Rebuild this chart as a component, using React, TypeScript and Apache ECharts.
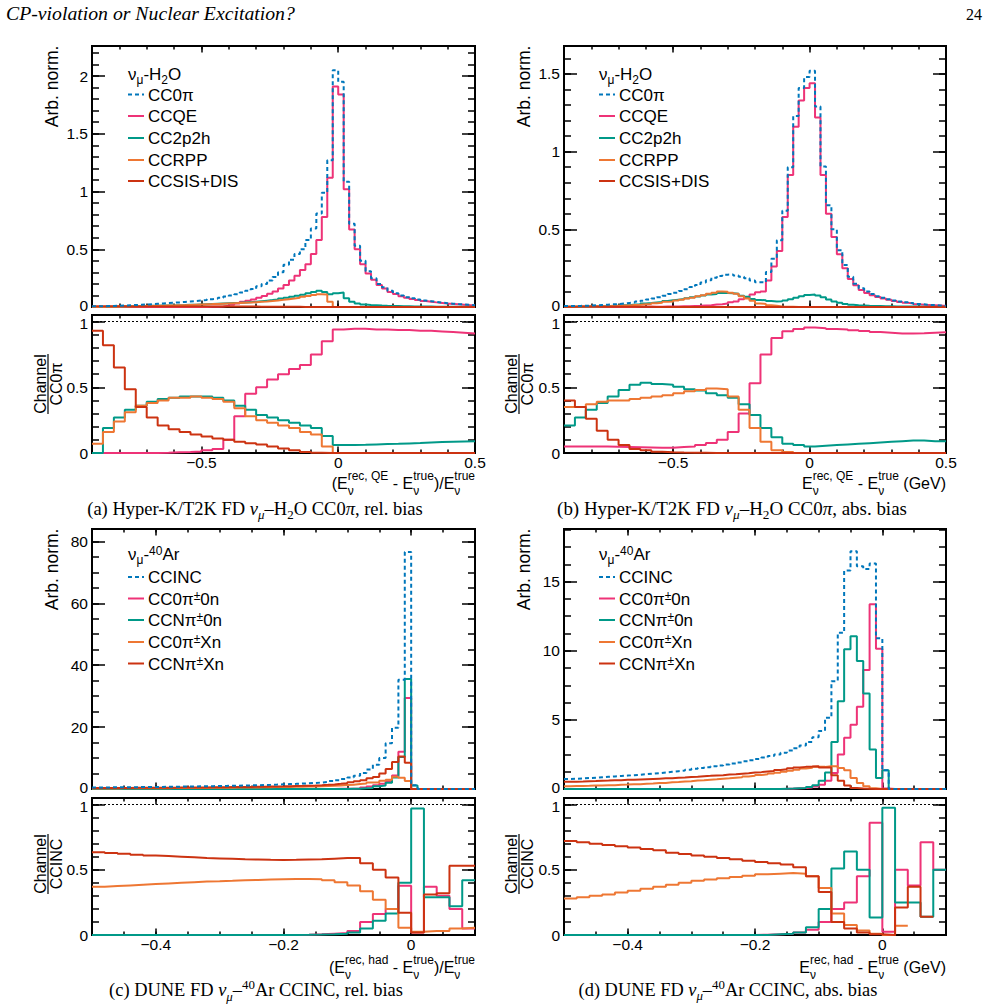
import React, { useEffect, useRef } from 'react';
import * as echarts from 'echarts';

// ======================= DATA =======================
// (a) Hyper-K/T2K FD nu_mu-H2O CC0pi, relative bias. Top: 70 bins of 0.02 from -0.9; ratio: 35 bins of 0.04 from -0.9
const aTopStart = -0.9, aTopWidth = 0.02, aRatioStart = -0.9, aRatioWidth = 0.04;
const aCC0pi = [0.006,0.007,0.008,0.009,0.011,0.013,0.015,0.017,0.02,0.022,
  0.025,0.028,0.031,0.034,0.037,0.04,0.044,0.048,0.052,0.056,
  0.06,0.067,0.073,0.08,0.09,0.1,0.11,0.125,0.14,0.155,
  0.18,0.2,0.23,0.26,0.3,0.365,0.41,0.46,0.5,0.58,
  0.68,0.81,0.99,1.27,2.05,1.95,1.085,0.72,0.53,0.4,
  0.31,0.25,0.2,0.17,0.14,0.12,0.1,0.085,0.075,0.065,
  0.056,0.05,0.044,0.038,0.033,0.029,0.025,0.022,0.019,0.016];
const aCCQE = [0,0,0,0,0,0,0,0,0,0,
  0,0,0,0,0,0,0,0,0.0005,0.0008,
  0.001,0.0015,0.002,0.004,0.01,0.02,0.03,0.045,0.055,0.065,
  0.08,0.095,0.115,0.135,0.16,0.19,0.23,0.27,0.32,0.37,
  0.46,0.58,0.78,1.12,1.91,1.84,1.02,0.67,0.5,0.37,
  0.29,0.235,0.19,0.16,0.13,0.112,0.094,0.08,0.07,0.06,
  0.052,0.046,0.04,0.035,0.03,0.027,0.023,0.02,0.017,0.015];
const aCC2p2h = [0.001,0.001,0.002,0.003,0.004,0.005,0.006,0.007,0.008,0.009,
  0.01,0.011,0.012,0.013,0.014,0.016,0.017,0.019,0.02,0.022,
  0.024,0.026,0.028,0.03,0.032,0.034,0.036,0.039,0.042,0.045,
  0.05,0.055,0.06,0.066,0.073,0.08,0.088,0.097,0.107,0.118,
  0.13,0.14,0.13,0.11,0.12,0.125,0.075,0.045,0.03,0.022,
  0.018,0.015,0.012,0.01,0.009,0.008,0.007,0.006,0.005,0.005,
  0.004,0.004,0.003,0.003,0.003,0.002,0.002,0.002,0.002,0.002];
const aCCRPP = [0.0005,0.001,0.0015,0.002,0.003,0.004,0.005,0.006,0.007,0.008,
  0.009,0.01,0.011,0.012,0.013,0.015,0.016,0.018,0.02,0.022,
  0.024,0.025,0.027,0.029,0.031,0.033,0.035,0.037,0.039,0.042,
  0.045,0.048,0.052,0.057,0.062,0.068,0.074,0.08,0.088,0.095,
  0.103,0.11,0.108,0.046,0,0,0,0,0,0,
  0,0,0,0,0,0,0,0,0,0,
  0,0,0,0,0,0,0,0,0,0];
const aCCSISDIS = [0.0055,0.0058,0.006,0.006,0.006,0.0055,0.005,0.0045,0.0045,0.0045,
  0.004,0.004,0.004,0.004,0.004,0.004,0.004,0.004,0.004,0.004,
  0.004,0.004,0.004,0.004,0.004,0.004,0.004,0.004,0.004,0.004,
  0.003,0.003,0.003,0.003,0.003,0.002,0.002,0.002,0.001,0.001,
  0,0,0,0,0,0,0,0,0,0,
  0,0,0,0,0,0,0,0,0,0,
  0,0,0,0,0,0,0,0,0,0];
const aRatioCCQE = [0,0,0,0,0,0,0.002,0.005,0.008,0.012,
  0.02,0.03,0.1,0.28,0.45,0.5,0.56,0.6,0.64,0.67,
  0.75,0.85,0.94,0.945,0.945,0.94,0.94,0.935,0.935,0.93,
  0.93,0.925,0.92,0.915,0.91];
const aRatioCC2p2h = [0,0.19,0.27,0.33,0.36,0.39,0.41,0.42,0.43,0.43,
  0.43,0.42,0.4,0.36,0.33,0.29,0.27,0.25,0.23,0.21,
  0.19,0.13,0.06,0.06,0.062,0.065,0.068,0.07,0.073,0.076,
  0.08,0.083,0.086,0.088,0.09];
const aRatioCCRPP = [0.07,0.16,0.24,0.31,0.36,0.38,0.4,0.42,0.42,0.43,
  0.42,0.41,0.39,0.34,0.28,0.25,0.23,0.21,0.19,0.16,
  0.14,0.05,0,0,0,0,0,0,0,0,
  0,0,0,0,0];
const aRatioCCSISDIS = [0.93,0.82,0.65,0.485,0.35,0.27,0.21,0.18,0.16,0.14,
  0.125,0.11,0.1,0.085,0.075,0.065,0.05,0.035,0.02,0.008,
  0.002,0,0,0,0,0,0,0,0,0,
  0,0,0,0,0];

// (b) Hyper-K/T2K FD nu_mu-H2O CC0pi, absolute bias (GeV). Same binning as (a)
const bTopStart = -0.9, bTopWidth = 0.02, bRatioStart = -0.9, bRatioWidth = 0.04;
const bCC0pi = [0.006,0.006,0.007,0.008,0.009,0.011,0.013,0.015,0.017,0.019,
  0.022,0.026,0.03,0.035,0.041,0.048,0.055,0.063,0.073,0.084,
  0.092,0.103,0.115,0.128,0.142,0.157,0.172,0.188,0.2,0.208,
  0.21,0.203,0.195,0.185,0.17,0.16,0.158,0.225,0.31,0.43,
  0.62,0.9,1.23,1.41,1.48,1.52,1.29,0.905,0.655,0.5,
  0.366,0.27,0.195,0.15,0.12,0.1,0.083,0.07,0.06,0.05,
  0.042,0.035,0.03,0.025,0.02,0.017,0.014,0.012,0.01,0.008];
const bCCQE = [0.0003,0.0003,0.0003,0.0003,0.0003,0.0003,0.0003,0.0003,0.0004,0.0004,
  0.0005,0.0006,0.0008,0.001,0.0012,0.0014,0.0016,0.0018,0.003,0.003,
  0.004,0.005,0.005,0.007,0.008,0.01,0.012,0.016,0.018,0.022,
  0.03,0.036,0.05,0.065,0.08,0.095,0.1,0.17,0.26,0.36,
  0.58,0.85,1.16,1.33,1.41,1.44,1.22,0.85,0.6,0.45,
  0.34,0.25,0.18,0.14,0.11,0.09,0.076,0.064,0.055,0.046,
  0.038,0.032,0.027,0.023,0.018,0.015,0.013,0.011,0.009,0.007];
const bCC2p2h = [0.0013,0.0013,0.002,0.002,0.0032,0.0034,0.005,0.0056,0.0075,0.008,
  0.011,0.012,0.016,0.018,0.023,0.025,0.029,0.033,0.039,0.043,
  0.047,0.051,0.056,0.062,0.068,0.074,0.08,0.084,0.09,0.09,
  0.088,0.085,0.073,0.066,0.052,0.045,0.043,0.038,0.036,0.037,
  0.042,0.05,0.06,0.07,0.078,0.08,0.074,0.062,0.048,0.036,
  0.027,0.02,0.015,0.012,0.01,0.008,0.007,0.006,0.005,0.005,
  0.004,0.004,0.003,0.003,0.003,0.002,0.002,0.002,0.001,0.001];
const bCCRPP = [0.0021,0.0021,0.0025,0.0027,0.0036,0.0038,0.0053,0.0056,0.007,0.0074,
  0.009,0.01,0.013,0.014,0.018,0.019,0.024,0.027,0.033,0.036,
  0.042,0.047,0.054,0.06,0.069,0.075,0.085,0.091,0.1,0.098,
  0.092,0.086,0.07,0.055,0.04,0.023,0.02,0.012,0.008,0.004,
  0.002,0.001,0,0,0,0,0,0,0,0,
  0,0,0,0,0,0,0,0,0,0,
  0,0,0,0,0,0,0,0,0,0];
const bCCSISDIS = [0.0024,0.0024,0.0026,0.0026,0.0026,0.0026,0.0024,0.0024,0.0018,0.0018,
  0.0014,0.0015,0.001,0.001,0.0009,0.0009,0.0006,0.0006,0.0004,0.0004,
  0.0002,0.0002,0.0002,0.0002,0.0002,0.0002,0.0002,0.0002,0.0002,0.0002,
  0,0,0,0,0,0,0,0,0,0,
  0,0,0,0,0,0,0,0,0,0,
  0,0,0,0,0,0,0,0,0,0,
  0,0,0,0,0,0,0,0,0,0];
const bRatioCCQE = [0.05,0.05,0.05,0.05,0.048,0.046,0.044,0.042,0.04,0.04,
  0.045,0.05,0.06,0.077,0.1,0.16,0.3,0.53,0.75,0.875,
  0.926,0.944,0.954,0.95,0.944,0.94,0.934,0.928,0.92,0.915,
  0.91,0.91,0.912,0.915,0.918];
const bRatioCC2p2h = [0.21,0.27,0.33,0.38,0.43,0.48,0.52,0.535,0.525,0.52,
  0.505,0.485,0.475,0.455,0.44,0.42,0.37,0.29,0.19,0.12,
  0.07,0.06,0.05,0.055,0.06,0.065,0.07,0.075,0.08,0.085,
  0.09,0.095,0.095,0.09,0.09];
const bRatioCCRPP = [0.35,0.35,0.37,0.39,0.4,0.4,0.41,0.42,0.43,0.44,
  0.455,0.47,0.48,0.49,0.485,0.43,0.33,0.19,0.085,0.02,
  0.008,0,0,0,0,0,0,0,0,0,
  0,0,0,0,0];
const bRatioCCSISDIS = [0.4,0.35,0.26,0.17,0.1,0.06,0.03,0.02,0.01,0.005,
  0.003,0.002,0.001,0,0,0,0,0,0,0,
  0,0,0,0,0,0,0,0,0,0,
  0,0,0,0,0];

// (c) DUNE FD nu_mu-40Ar CCINC, relative bias. Top: 60 bins of 0.01 from -0.5; ratio: 30 bins of 0.02
const cTopStart = -0.5, cTopWidth = 0.01, cRatioStart = -0.5, cRatioWidth = 0.02;
const cCCINC = [0.5,0.5,0.52,0.54,0.56,0.58,0.6,0.62,0.64,0.66,
  0.68,0.7,0.73,0.76,0.79,0.82,0.85,0.88,0.92,0.96,
  1.0,1.04,1.08,1.13,1.18,1.23,1.29,1.35,1.42,1.5,
  1.58,1.66,1.75,1.85,1.96,2.1,2.3,2.55,2.85,3.2,
  3.7,4.3,5.2,6.3,7.8,10.0,14.8,19.8,35.3,76.6,
  1.2,0,0,0,0,0,0,0,0,0];
const cCC0pi0n = [0,0,0,0,0,0,0,0,0,0,
  0,0,0,0,0,0,0,0,0,0,
  0,0,0,0,0,0,0,0,0,0,
  0,0,0.004,0.004,0.01,0.01,0.023,0.026,0.043,0.048,
  0.11,0.13,0.5,0.8,1.2,1.7,2.5,4.4,12,29.4,
  0.02,0,0,0,0,0,0,0,0,0];
const cCCNpi0n = [0,0,0,0,0,0,0,0,0,0,
  0,0,0,0,0,0,0,0,0,0,
  0,0,0,0,0,0,0,0,0,0,
  0,0,0.002,0.002,0.005,0.006,0.013,0.015,0.028,0.032,
  0.07,0.08,0.25,0.35,0.9,1.1,2.0,3.7,10.3,35.5,
  1.1,0,0,0,0,0,0,0,0,0];
const cCC0piXn = [0.19,0.19,0.2,0.2,0.21,0.22,0.23,0.24,0.25,0.26,
  0.27,0.28,0.29,0.3,0.32,0.33,0.35,0.36,0.38,0.4,
  0.42,0.43,0.45,0.48,0.5,0.52,0.55,0.57,0.61,0.64,
  0.68,0.71,0.75,0.8,0.84,0.9,0.97,1.07,1.15,1.3,
  1.41,1.63,1.74,2.11,2.1,2.7,2.96,3.96,3.6,2.6,
  0.03,0,0,0,0,0,0,0,0,0];
const cCCNpiXn = [0.32,0.32,0.33,0.34,0.35,0.36,0.37,0.38,0.39,0.4,
  0.41,0.42,0.44,0.46,0.47,0.49,0.5,0.52,0.54,0.56,
  0.58,0.61,0.63,0.66,0.68,0.71,0.74,0.78,0.82,0.86,
  0.91,0.96,1.01,1.07,1.14,1.22,1.35,1.49,1.68,1.89,
  2.18,2.54,2.86,3.47,3.9,5.0,6.5,8.7,10.5,8.5,
  0.02,0,0,0,0,0,0,0,0,0];
const cRatioCC0pi0n = [0,0,0,0,0,0,0,0,0,0,0,0,0,0,0,0,0.002,0.005,0.01,0.015,0.03,0.1,0.16,0.2,0.377,0.02,0.37,0.3,0.2,0.05];
const cRatioCCNpi0n = [0,0,0,0,0,0,0,0,0,0,0,0,0,0,0,0,0.001,0.003,0.006,0.01,0.02,0.05,0.11,0.165,0.4,0.97,0.29,0.29,0.22,0.42];
const cRatioCC0piXn = [0.37,0.375,0.38,0.385,0.39,0.395,0.4,0.405,0.41,0.412,0.415,0.42,0.422,0.425,0.428,0.43,0.43,0.428,0.42,0.405,0.38,0.335,0.27,0.2,0.056,0.025,0.03,0.03,0.05,0.055];
const cRatioCCNpiXn = [0.635,0.628,0.622,0.616,0.61,0.605,0.6,0.595,0.59,0.587,0.584,0.58,0.578,0.576,0.575,0.576,0.578,0.58,0.585,0.59,0.59,0.55,0.5,0.44,0.17,0.02,0.31,0.32,0.53,0.53];

// (d) DUNE FD nu_mu-40Ar CCINC, absolute bias (GeV). Same binning as (c)
const dTopStart = -0.5, dTopWidth = 0.01, dRatioStart = -0.5, dRatioWidth = 0.02;
const dCCINC = [0.72,0.74,0.76,0.79,0.82,0.85,0.88,0.91,0.94,0.97,
  1.0,1.03,1.07,1.11,1.15,1.19,1.24,1.29,1.34,1.4,
  1.46,1.52,1.58,1.64,1.7,1.77,1.84,1.92,2.0,2.08,
  2.17,2.27,2.38,2.5,2.63,2.78,2.95,3.15,3.4,3.75,
  4.2,5.15,7.8,11.3,15.8,17.2,16.1,15.9,16.3,10.9,
  1.35,0,0,0,0,0,0,0,0,0];
const dCC0pi0n = [0,0,0,0,0,0,0,0,0,0,
  0,0,0,0,0,0,0,0,0,0,
  0,0,0,0,0,0,0,0,0,0,
  0.002,0.003,0.005,0.006,0.01,0.015,0.05,0.07,0.1,0.18,
  0.3,0.6,1.16,2.5,3.7,4.65,5.95,8.6,13.35,10.15,
  0.03,0,0,0,0,0,0,0,0,0];
const dCCNpi0n = [0,0,0,0,0,0,0,0,0,0,
  0,0,0,0,0,0,0,0,0,0,
  0,0,0,0,0,0,0,0,0,0,
  0,0,0.003,0.005,0.02,0.03,0.05,0.07,0.15,0.28,
  0.6,1.2,3.4,6.35,10.1,11.05,9.25,6.9,2.85,0.8,
  1.35,0,0,0,0,0,0,0,0,0];
const dCC0piXn = [0.2,0.21,0.22,0.23,0.25,0.26,0.27,0.28,0.31,0.32,
  0.34,0.35,0.38,0.39,0.43,0.44,0.48,0.5,0.54,0.56,
  0.61,0.63,0.67,0.7,0.74,0.77,0.82,0.85,0.91,0.95,
  1.01,1.06,1.12,1.18,1.25,1.32,1.39,1.48,1.53,1.6,
  1.6,1.64,1.64,1.52,1.35,0.8,0.43,0.19,0.05,0,
  0,0,0,0,0,0,0,0,0,0];
const dCCNpiXn = [0.52,0.53,0.54,0.56,0.57,0.6,0.61,0.63,0.64,0.66,
  0.67,0.69,0.71,0.73,0.75,0.77,0.78,0.81,0.83,0.87,
  0.89,0.93,0.95,0.98,1.0,1.04,1.07,1.11,1.14,1.19,
  1.22,1.27,1.31,1.38,1.42,1.5,1.56,1.6,1.62,1.65,
  1.55,1.55,1.0,0.6,0.25,0.08,0.03,0.01,0.005,0,
  0,0,0,0,0,0,0,0,0,0];
const dRatioCC0pi0n = [0,0,0,0,0,0,0,0,0,0,0,0,0,0,0,0.002,0.005,0.01,0.02,0.04,0.1,0.2,0.25,0.45,0.86,0.025,0.5,0.38,0.71,0.5];
const dRatioCCNpi0n = [0,0,0,0,0,0,0,0,0,0,0,0,0,0,0,0,0.005,0.01,0.02,0.06,0.2,0.51,0.64,0.5,0.135,0.975,0.25,0.25,0.14,0.5];
const dRatioCC0piXn: (number | null)[] = [0.28,0.29,0.3,0.31,0.325,0.34,0.355,0.37,0.385,0.4,0.415,0.425,0.435,0.445,0.455,0.465,0.47,0.475,0.47,0.45,0.36,0.165,0.076,0.035,0.01,0,0.07,null,null,null];
const dRatioCCNpiXn: (number | null)[] = [0.72,0.71,0.7,0.69,0.68,0.67,0.66,0.65,0.63,0.62,0.61,0.6,0.59,0.58,0.57,0.56,0.55,0.54,0.52,0.45,0.33,0.1,0.05,0.02,0.005,0,0.21,0.37,0.14,null];

// Tick labels
const xTicksHK = [-0.5, 0, 0.5];
const xTicksDUNE = [-0.4, -0.2, 0];
const yTicksA = [0, 0.5, 1, 1.5, 2];
const yTicksB = [0, 0.5, 1, 1.5];
const yTicksC = [0, 20, 40, 60, 80];
const yTicksD = [0, 5, 10, 15];
const yTicksRatio = [0, 0.5, 1];

// ======================= STYLE =======================
const SANS = "'Liberation Sans', Arial, Helvetica, sans-serif";
const SERIF = "'Liberation Serif', 'Times New Roman', Times, serif";
const C_BLUE = '#0077BB', C_PINK = '#EE3377', C_TEAL = '#009988', C_ORANGE = '#EE7733', C_RED = '#CC3311';

function range(a: number, b: number, step: number) {
  const out: number[] = [];
  const n = Math.floor((b - a) / step + 1e-6);
  for (let i = 0; i <= n; i++) out.push(+(a + i * step).toFixed(6));
  return out;
}
const fmt = (v: number) => (v < 0 ? '\u2212' : '') + String(+Math.abs(v).toFixed(3));

function histPoints(vals: (number | null)[], x0: number, bw: number) {
  const pts: any[] = [];
  vals.forEach((v, i) => {
    const l = +(x0 + i * bw).toFixed(6), r = +(x0 + (i + 1) * bw).toFixed(6);
    if (v === null || v === undefined) { pts.push([l, '-']); return; }
    pts.push([l, v]); pts.push([r, v]);
  });
  return pts;
}

// ------- rich text pieces -------
type Piece = { t?: string; sub?: string; sup?: string; s: number; dy?: number; subDy?: number; supDy?: number; it?: boolean };
let mctx: CanvasRenderingContext2D | null = null;
function measure(t: string, s: number, fam: string, it?: boolean) {
  if (!mctx) mctx = document.createElement('canvas').getContext('2d');
  mctx!.font = `${it ? 'italic ' : ''}${s}px ${fam}`;
  return mctx!.measureText(t).width;
}
function layoutPieces(pieces: Piece[], fam: string, scale: number) {
  const out: { t: string; s: number; dx: number; dy: number; it?: boolean }[] = [];
  let cx = 0;
  for (const p of pieces) {
    const s = p.s * scale;
    if (p.t !== undefined) {
      out.push({ t: p.t, s, dx: cx, dy: (p.dy || 0) * scale, it: p.it });
      cx += measure(p.t, s, fam, p.it);
    } else {
      const w1 = measure(p.sub!, s, fam, p.it), w2 = measure(p.sup!, s, fam, p.it);
      out.push({ t: p.sub!, s, dx: cx, dy: (p.subDy || 0) * scale, it: p.it });
      out.push({ t: p.sup!, s, dx: cx, dy: (p.supDy || 0) * scale, it: p.it });
      cx += Math.max(w1, w2);
    }
  }
  return { out, width: cx };
}
function richLine(pieces: Piece[], x: number, baseline: number, align: 'left' | 'right' | 'center', fam: string, fit?: number) {
  let scale = 1;
  if (fit) { const w = layoutPieces(pieces, fam, 1).width; if (w > 0) scale = fit / w; }
  const { out, width } = layoutPieces(pieces, fam, scale);
  const x0 = align === 'left' ? x : align === 'right' ? x - width : x - width / 2;
  return out.map((o) => ({
    type: 'text', silent: true, x: x0 + o.dx, y: baseline + o.dy - 0.32 * o.s,
    style: { text: o.t, fontSize: o.s, fontFamily: fam, fontStyle: o.it ? 'italic' : 'normal', fill: '#000',
      align: 'left', textAlign: 'left', verticalAlign: 'middle', textVerticalAlign: 'middle' },
  }));
}
function plainText(text: string, x: number, y: number, size: number, opts: any = {}) {
  return {
    type: 'text', silent: true, x, y, rotation: opts.rotation || 0,
    style: { text, fontSize: size, fontFamily: opts.fam || SANS, fill: '#000',
      align: opts.align || 'center', textAlign: opts.align || 'center', verticalAlign: 'middle', textVerticalAlign: 'middle' },
  };
}

function buildOption() {
  const grid: any[] = [], xAxis: any[] = [], yAxis: any[] = [], series: any[] = [], graphic: any[] = [];

  const addGrid = (g: any) => {
    const gi = grid.length;
    grid.push({ left: g.left, top: g.top, width: g.width, height: g.height, show: true, borderColor: '#000', borderWidth: 2,
      backgroundColor: 'rgba(0,0,0,0)', containLabel: false, outerBoundsMode: 'none' });
    const xi = xAxis.length, yi = yAxis.length;
    const tick = (vals: number[], len: number) => ({ show: true, inside: true, length: len, customValues: vals, lineStyle: { color: '#000', width: 1.5 } });
    const base = { type: 'value', gridIndex: gi, axisLine: { show: false, onZero: false }, splitLine: { show: false }, minorTick: { show: false }, splitArea: { show: false } };
    const xMinor = range(g.xMin, g.xMax, g.xMinorStep);
    const yMinor = range(0, g.yMax, g.yMinorStep);
    const lab = (vals: number[], margin: number, nudge?: number) => ({
      show: true, customValues: vals, fontSize: 15.5, lineHeight: 13, fontFamily: SANS, color: '#000', margin,
      // the zero of a top panel sits just above the "1" of the ratio panel below: nudge them apart
      formatter: (v: number) => (nudge !== undefined && v === nudge ? `{n|${fmt(v)}}` : fmt(v)),
      rich: { n: { fontSize: 15.5, lineHeight: 13, fontFamily: SANS, color: '#000', padding: g.nudgeUp ? [0, 0, 4, 0] : [4, 0, 0, 0] } },
    });
    const off = { show: false };
    xAxis.push({ ...base, position: 'bottom', min: g.xMin, max: g.xMax, axisTick: tick(g.xMaj, 6.5), axisLabel: g.xLabels ? lab(g.xMaj, 3) : off });
    xAxis.push({ ...base, position: 'bottom', min: g.xMin, max: g.xMax, axisTick: tick(xMinor, 3.5), axisLabel: off });
    xAxis.push({ ...base, position: 'top', min: g.xMin, max: g.xMax, axisTick: tick(g.xMaj, 6.5), axisLabel: off });
    xAxis.push({ ...base, position: 'top', min: g.xMin, max: g.xMax, axisTick: tick(xMinor, 3.5), axisLabel: off });
    yAxis.push({ ...base, position: 'left', min: 0, max: g.yMax, axisTick: tick(g.yMaj, 13), axisLabel: lab(g.yMaj, 4, g.nudgeUp ? 0 : 1) });
    yAxis.push({ ...base, position: 'left', min: 0, max: g.yMax, axisTick: tick(yMinor, 7), axisLabel: off });
    yAxis.push({ ...base, position: 'right', min: 0, max: g.yMax, axisTick: tick(g.yMaj, 13), axisLabel: off });
    yAxis.push({ ...base, position: 'right', min: 0, max: g.yMax, axisTick: tick(yMinor, 7), axisLabel: off });
    return { xi, yi };
  };

  const hist = (ax: any, name: string, vals: (number | null)[], x0: number, bw: number, color: string, dashed = false, z = 3, extra: any = {}) => {
    series.push({
      name, type: 'line', xAxisIndex: ax.xi, yAxisIndex: ax.yi, symbol: 'none', showSymbol: false, clip: true, silent: true, z,
      data: histPoints(vals, x0, bw), connectNulls: false,
      lineStyle: { color, width: 2, type: dashed ? [4, 3] : 'solid' }, itemStyle: { color }, emphasis: { disabled: true },
      ...extra,
    });
  };
  const unityLine = { markLine: { silent: true, symbol: ['none', 'none'], label: { show: false }, lineStyle: { color: '#000', width: 1, type: [2, 2] }, data: [{ yAxis: 1 }] } };

  const L = 92, W = 383, R = 564, W2 = 382;
  // ---------- (a) ----------
  const gA = addGrid({ left: L, top: 46, width: W, height: 261, xMin: -0.9, xMax: 0.5, xMaj: xTicksHK, xMinorStep: 0.1, yMax: 2.26, yMaj: yTicksA, yMinorStep: 0.1, xLabels: false, nudgeUp: true });
  hist(gA, 'CCQE', aCCQE, aTopStart, aTopWidth, C_PINK);
  hist(gA, 'CC2p2h', aCC2p2h, aTopStart, aTopWidth, C_TEAL);
  hist(gA, 'CCRPP', aCCRPP, aTopStart, aTopWidth, C_ORANGE);
  hist(gA, 'CCSIS+DIS', aCCSISDIS, aTopStart, aTopWidth, C_RED);
  hist(gA, 'CC0π', aCC0pi, aTopStart, aTopWidth, C_BLUE, true, 5);
  const gAr = addGrid({ left: L, top: 315, width: W, height: 138, xMin: -0.9, xMax: 0.5, xMaj: xTicksHK, xMinorStep: 0.1, yMax: 1.05, yMaj: yTicksRatio, yMinorStep: 0.1, xLabels: true });
  hist(gAr, 'CCQE / CC0π', aRatioCCQE, aRatioStart, aRatioWidth, C_PINK, false, 3, unityLine);
  hist(gAr, 'CC2p2h / CC0π', aRatioCC2p2h, aRatioStart, aRatioWidth, C_TEAL);
  hist(gAr, 'CCRPP / CC0π', aRatioCCRPP, aRatioStart, aRatioWidth, C_ORANGE);
  hist(gAr, 'CCSIS+DIS / CC0π', aRatioCCSISDIS, aRatioStart, aRatioWidth, C_RED);

  // ---------- (b) ----------
  const gB = addGrid({ left: R, top: 46, width: W2, height: 261, xMin: -0.9, xMax: 0.5, xMaj: xTicksHK, xMinorStep: 0.1, yMax: 1.68, yMaj: yTicksB, yMinorStep: 0.1, xLabels: false, nudgeUp: true });
  hist(gB, 'CCQE', bCCQE, bTopStart, bTopWidth, C_PINK);
  hist(gB, 'CC2p2h', bCC2p2h, bTopStart, bTopWidth, C_TEAL);
  hist(gB, 'CCRPP', bCCRPP, bTopStart, bTopWidth, C_ORANGE);
  hist(gB, 'CCSIS+DIS', bCCSISDIS, bTopStart, bTopWidth, C_RED);
  hist(gB, 'CC0π', bCC0pi, bTopStart, bTopWidth, C_BLUE, true, 5);
  const gBr = addGrid({ left: R, top: 315, width: W2, height: 138, xMin: -0.9, xMax: 0.5, xMaj: xTicksHK, xMinorStep: 0.1, yMax: 1.05, yMaj: yTicksRatio, yMinorStep: 0.1, xLabels: true });
  hist(gBr, 'CCQE / CC0π', bRatioCCQE, bRatioStart, bRatioWidth, C_PINK, false, 3, unityLine);
  hist(gBr, 'CC2p2h / CC0π', bRatioCC2p2h, bRatioStart, bRatioWidth, C_TEAL);
  hist(gBr, 'CCRPP / CC0π', bRatioCCRPP, bRatioStart, bRatioWidth, C_ORANGE);
  hist(gBr, 'CCSIS+DIS / CC0π', bRatioCCSISDIS, bRatioStart, bRatioWidth, C_RED);

  // ---------- (c) ----------
  const gC = addGrid({ left: L, top: 529, width: W, height: 260, xMin: -0.5, xMax: 0.1, xMaj: xTicksDUNE, xMinorStep: 0.05, yMax: 84, yMaj: yTicksC, yMinorStep: 5, xLabels: false, nudgeUp: true });
  hist(gC, 'CC0π±0n', cCC0pi0n, cTopStart, cTopWidth, C_PINK);
  hist(gC, 'CCNπ±0n', cCCNpi0n, cTopStart, cTopWidth, C_TEAL);
  hist(gC, 'CC0π±Xn', cCC0piXn, cTopStart, cTopWidth, C_ORANGE);
  hist(gC, 'CCNπ±Xn', cCCNpiXn, cTopStart, cTopWidth, C_RED);
  hist(gC, 'CCINC', cCCINC, cTopStart, cTopWidth, C_BLUE, true, 5);
  const gCr = addGrid({ left: L, top: 798, width: W, height: 137, xMin: -0.5, xMax: 0.1, xMaj: xTicksDUNE, xMinorStep: 0.05, yMax: 1.05, yMaj: yTicksRatio, yMinorStep: 0.1, xLabels: true });
  hist(gCr, 'CC0π±0n / CCINC', cRatioCC0pi0n, cRatioStart, cRatioWidth, C_PINK, false, 3, unityLine);
  hist(gCr, 'CCNπ±0n / CCINC', cRatioCCNpi0n, cRatioStart, cRatioWidth, C_TEAL);
  hist(gCr, 'CC0π±Xn / CCINC', cRatioCC0piXn, cRatioStart, cRatioWidth, C_ORANGE);
  hist(gCr, 'CCNπ±Xn / CCINC', cRatioCCNpiXn, cRatioStart, cRatioWidth, C_RED);

  // ---------- (d) ----------
  const gD = addGrid({ left: R, top: 529, width: W2, height: 260, xMin: -0.5, xMax: 0.1, xMaj: xTicksDUNE, xMinorStep: 0.05, yMax: 18.8, yMaj: yTicksD, yMinorStep: 1.25, xLabels: false, nudgeUp: true });
  hist(gD, 'CC0π±0n', dCC0pi0n, dTopStart, dTopWidth, C_PINK);
  hist(gD, 'CCNπ±0n', dCCNpi0n, dTopStart, dTopWidth, C_TEAL);
  hist(gD, 'CC0π±Xn', dCC0piXn, dTopStart, dTopWidth, C_ORANGE);
  hist(gD, 'CCNπ±Xn', dCCNpiXn, dTopStart, dTopWidth, C_RED);
  hist(gD, 'CCINC', dCCINC, dTopStart, dTopWidth, C_BLUE, true, 5);
  const gDr = addGrid({ left: R, top: 798, width: W2, height: 137, xMin: -0.5, xMax: 0.1, xMaj: xTicksDUNE, xMinorStep: 0.05, yMax: 1.05, yMaj: yTicksRatio, yMinorStep: 0.1, xLabels: true });
  hist(gDr, 'CC0π±0n / CCINC', dRatioCC0pi0n, dRatioStart, dRatioWidth, C_PINK, false, 3, unityLine);
  hist(gDr, 'CCNπ±0n / CCINC', dRatioCCNpi0n, dRatioStart, dRatioWidth, C_TEAL);
  hist(gDr, 'CC0π±Xn / CCINC', dRatioCC0piXn, dRatioStart, dRatioWidth, C_ORANGE);
  hist(gDr, 'CCNπ±Xn / CCINC', dRatioCCNpiXn, dRatioStart, dRatioWidth, C_RED);

  // ---------- texts ----------
  graphic.push(...richLine([{ t: 'CP-violation or Nuclear Excitation?', s: 16, it: true }], 6, 19.5, 'left', SERIF, 289));
  graphic.push(...richLine([{ t: '24', s: 16 }], 982, 19.5, 'right', SERIF));

  // y titles
  for (const [x, top] of [[52, 45.5], [523.5, 45.5], [52, 528.5], [523.5, 528.5]]) {
    graphic.push(plainText('Arb. norm.', x, top, 17.5, { rotation: Math.PI / 2, align: 'right' }));
  }
  const ratioTitle = (xc: number, yc: number, den: string) => {
    graphic.push(plainText('Channel', xc - 8, yc, 16, { rotation: Math.PI / 2 }));
    graphic.push({ type: 'line', silent: true, shape: { x1: xc, y1: yc - 30, x2: xc, y2: yc + 30 }, style: { stroke: '#000', lineWidth: 1.2 } });
    graphic.push(plainText(den, xc + 8.5, yc, 16, { rotation: Math.PI / 2 }));
  };
  ratioTitle(48, 384, 'CC0π');
  ratioTitle(519, 384, 'CC0π');
  ratioTitle(48, 864, 'CCINC');
  ratioTitle(519, 864, 'CCINC');

  // x titles
  const sv = (sup: string): Piece => ({ sub: 'ν', sup, s: 12, subDy: 5.5, supDy: -9.5 });
  graphic.push(...richLine([{ t: '(E', s: 16 }, sv('rec, QE'), { t: ' - E', s: 16 }, sv('true'), { t: ')/E', s: 16 }, sv('true')], 475, 489, 'right', SANS));
  graphic.push(...richLine([{ t: 'E', s: 16 }, sv('rec, QE'), { t: ' - E', s: 16 }, sv('true'), { t: ' (GeV)', s: 16 }], 946, 489, 'right', SANS));
  graphic.push(...richLine([{ t: '(E', s: 16 }, sv('rec, had'), { t: ' - E', s: 16 }, sv('true'), { t: ')/E', s: 16 }, sv('true')], 475, 973, 'right', SANS));
  graphic.push(...richLine([{ t: 'E', s: 16 }, sv('rec, had'), { t: ' - E', s: 16 }, sv('true'), { t: ' (GeV)', s: 16 }], 946, 973, 'right', SANS));

  // captions
  const capHK = (lbl: string, tail: string): Piece[] => [
    { t: lbl + ' Hyper-K/T2K FD ', s: 15 }, { t: 'ν', s: 15, it: true }, { t: 'μ', s: 10.5, dy: 3.5, it: true },
    { t: '–H', s: 15 }, { t: '2', s: 10.5, dy: 3.5 }, { t: 'O CC0', s: 15 }, { t: 'π', s: 15, it: true }, { t: tail, s: 15 }];
  const capDUNE = (lbl: string, tail: string): Piece[] => [
    { t: lbl + ' DUNE FD ', s: 15 }, { t: 'ν', s: 15, it: true }, { t: 'μ', s: 10.5, dy: 3.5, it: true },
    { t: '–', s: 15 }, { t: '40', s: 10.5, dy: -6 }, { t: 'Ar CCINC' + tail, s: 15 }];
  graphic.push(...richLine(capHK('(a)', ', rel. bias'), 255, 514.5, 'center', SERIF, 336));
  graphic.push(...richLine(capHK('(b)', ', abs. bias'), 732, 514.5, 'center', SERIF, 350));
  graphic.push(...richLine(capDUNE('(c)', ', rel. bias'), 256, 996, 'center', SERIF, 294));
  graphic.push(...richLine(capDUNE('(d)', ', abs. bias'), 728, 996, 'center', SERIF, 299));

  // legends
  const legend = (x0: number, headBase: number, bases: number[], head: Piece[], entries: { label: Piece[]; color: string; dashed?: boolean }[]) => {
    graphic.push(...richLine(head, x0, headBase, 'left', SANS));
    entries.forEach((e, i) => {
      const yb = bases[i];
      graphic.push({ type: 'line', silent: true, shape: { x1: x0, y1: yb - 6, x2: x0 + 16, y2: yb - 6 },
        style: { stroke: e.color, lineWidth: 2, lineDash: e.dashed ? [4, 3] : null } });
      graphic.push(...richLine(e.label, x0 + 20, yb, 'left', SANS));
    });
  };
  const headH2O: Piece[] = [{ t: 'ν', s: 17 }, { t: 'μ', s: 12, dy: 4 }, { t: '-H', s: 17 }, { t: '2', s: 12, dy: 4 }, { t: 'O', s: 17 }];
  const headAr: Piece[] = [{ t: 'ν', s: 17 }, { t: 'μ', s: 12, dy: 4 }, { t: '-', s: 17 }, { t: '40', s: 12, dy: -5 }, { t: 'Ar', s: 17 }];
  const p = (t: string): Piece[] => [{ t, s: 17 }];
  const pm = (a: string, b: string): Piece[] => [{ t: a, s: 17 }, { t: '±', s: 12, dy: -5 }, { t: b, s: 17 }];
  const hkEntries = [
    { label: p('CC0π'), color: C_BLUE, dashed: true }, { label: p('CCQE'), color: C_PINK }, { label: p('CC2p2h'), color: C_TEAL },
    { label: p('CCRPP'), color: C_ORANGE }, { label: p('CCSIS+DIS'), color: C_RED }];
  const duneEntries = [
    { label: p('CCINC'), color: C_BLUE, dashed: true }, { label: pm('CC0π', '0n'), color: C_PINK }, { label: pm('CCNπ', '0n'), color: C_TEAL },
    { label: pm('CC0π', 'Xn'), color: C_ORANGE }, { label: pm('CCNπ', 'Xn'), color: C_RED }];
  const hkBases = [100.5, 122, 144, 166, 187];
  const duneBases = [583, 604.5, 626, 648, 669.5];
  legend(128, 80, hkBases, headH2O, hkEntries);
  legend(599, 80, hkBases, headH2O, hkEntries);
  legend(128, 560, duneBases, headAr, duneEntries);
  legend(599, 560, duneBases, headAr, duneEntries);

  return {
    animation: false,
    backgroundColor: '#fff',
    textStyle: { fontFamily: SANS },
    grid, xAxis, yAxis, series,
    graphic: { elements: graphic },
  };
}

export default function App() {
  const ref = useRef<HTMLDivElement>(null);
  useEffect(() => {
    const chart = echarts.init(ref.current!, null, { renderer: 'svg' });
    chart.setOption(buildOption() as any);
    return () => chart.dispose();
  }, []);
  return <div ref={ref} style={{ position: 'absolute', left: 0, top: 0, width: 984, height: 1006, background: '#fff' }} />;
}
